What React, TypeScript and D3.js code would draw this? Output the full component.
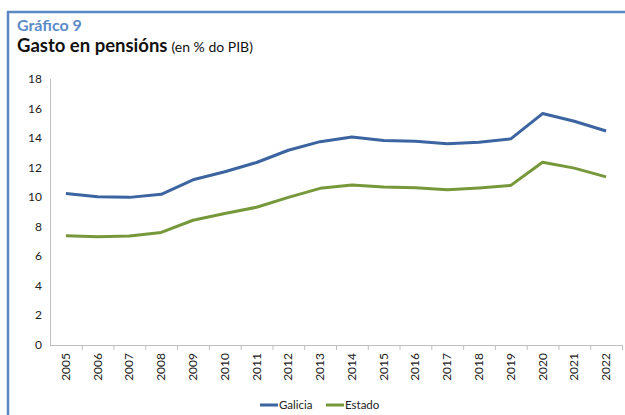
import * as d3 from 'd3'

const years = [
  '2005', '2006', '2007', '2008', '2009', '2010', '2011', '2012', '2013',
  '2014', '2015', '2016', '2017', '2018', '2019', '2020', '2021', '2022',
]
const galicia = [
  10.25, 10.03, 9.99, 10.2, 11.18, 11.72, 12.35, 13.18, 13.76, 14.08, 13.84,
  13.79, 13.62, 13.72, 13.95, 15.66, 15.14, 14.48,
]
const estado = [
  7.4, 7.33, 7.37, 7.62, 8.44, 8.9, 9.32, 9.99, 10.6, 10.82, 10.7, 10.64,
  10.5, 10.63, 10.8, 12.37, 11.97, 11.38,
]
const yTicks = [0, 2, 4, 6, 8, 10, 12, 14, 16, 18]

const series = [
  { name: 'Galicia', values: galicia, color: '#3B64A0' },
  { name: 'Estado', values: estado, color: '#77983A' },
]

const font = 'Lato, "Open Sans", sans-serif'

export default function App() {
  const width = 625
  const height = 415
  const margin = { top: 79, right: 3, bottom: 70, left: 50 }
  const innerWidth = width - margin.left - margin.right
  const innerHeight = height - margin.top - margin.bottom

  const x = d3.scaleBand().domain(years).range([0, innerWidth])
  const y = d3.scaleLinear().domain([0, 18]).range([innerHeight, 0])

  const line = d3
    .line<number>()
    .x((_, i) => (x(years[i]) ?? 0) + x.bandwidth() / 2)
    .y((d) => y(d))

  return (
    <svg
      width={width}
      height={height}
      style={{ position: 'absolute', left: 0, top: 0, background: '#fff' }}
      fontFamily={font}
    >
      {/* frame */}
      <line x1={8} x2={8} y1={11} y2={height} stroke="#5B88C2" strokeWidth={2.5} />
      <line x1={7} x2={width} y1={12} y2={12} stroke="#5B88C2" strokeWidth={2.5} />

      <text x={17} y={31} fontSize={16} fontWeight="bold" fill="#5B8BC7">
        Gráfico 9
      </text>
      <text x={17} y={52} fontSize={18.5} fontWeight="bold" fill="#111">
        Gasto en pensións
        <tspan fontSize={14} fontWeight="normal" dx={4}>
          (en % do PIB)
        </tspan>
      </text>

      <g transform={`translate(${margin.left},${margin.top})`}>
        <line x1={0.5} x2={0.5} y1={0} y2={innerHeight} stroke="#bfbfbf" />
        <line x1={0} x2={innerWidth} y1={innerHeight + 0.5} y2={innerHeight + 0.5} stroke="#bfbfbf" />
        {years.map((yr) => (
          <line
            key={'t' + yr}
            x1={(x(yr) ?? 0) + x.bandwidth() + 0.5}
            x2={(x(yr) ?? 0) + x.bandwidth() + 0.5}
            y1={innerHeight}
            y2={innerHeight + 5}
            stroke="#bfbfbf"
          />
        ))}

        <g fontSize={12} fill="#222" textAnchor="end">
          {yTicks.map((t) => (
            <text key={t} x={-8} y={y(t) + 4}>
              {t}
            </text>
          ))}
        </g>

        <g fontSize={12} fill="#222" textAnchor="end">
          {years.map((yr) => {
            const cx = (x(yr) ?? 0) + x.bandwidth() / 2
            return (
              <text
                key={yr}
                transform={`translate(${cx + 4},${innerHeight + 8}) rotate(-90)`}
              >
                {yr}
              </text>
            )
          })}
        </g>

        {series.map((s) => (
          <path
            key={s.name}
            d={line(s.values) ?? ''}
            fill="none"
            stroke={s.color}
            strokeWidth={3}
            strokeLinejoin="round"
          />
        ))}
      </g>

      <g fontSize={11.5} fill="#222">
        <line x1={260} x2={278} y1={405} y2={405} stroke={series[0].color} strokeWidth={3} />
        <text x={279} y={409}>Galicia</text>
        <line x1={326} x2={344} y1={405} y2={405} stroke={series[1].color} strokeWidth={3} />
        <text x={345} y={409}>Estado</text>
      </g>
    </svg>
  )
}
